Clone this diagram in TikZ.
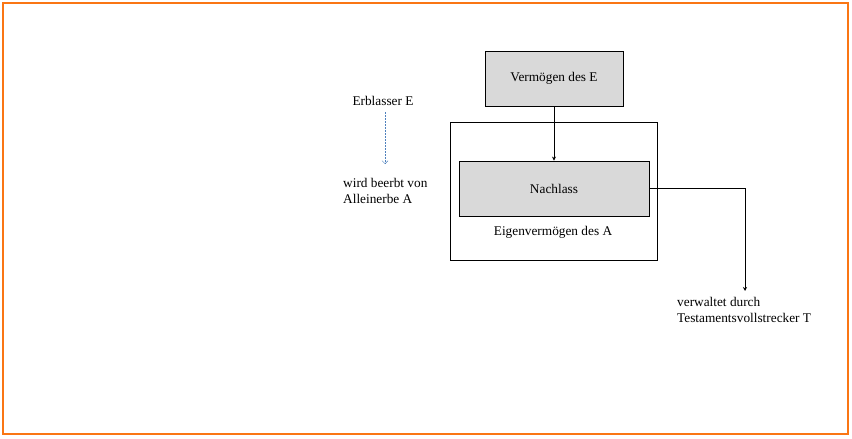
\documentclass[tikz,border=0pt]{standalone}
\usepackage{fontspec}
\setmainfont{Liberation Serif}
\usepackage{tikz}
\usetikzlibrary{positioning, arrows.meta}

\definecolor{frameorange}{RGB}{250,118,20}
\definecolor{boxgray}{RGB}{217,217,217}
\definecolor{dashblue}{RGB}{79,129,189}

\begin{document}
\begin{tikzpicture}[x=1pt, y=-1pt,
		grayBox/.style={draw, thick, fill=boxgray, minimum height=55pt},
		txt/.style={font=\fontsize{13.3}{16}\selectfont, inner sep=0pt, align=left}]

		% Frame
		\useasboundingbox (0,0) rectangle (852,439);
		\draw[frameorange, line width=1.2pt] (3,3) rectangle (848,434);

		% Boxes
		\draw[thick] (450,122) rectangle (657,260);
		\node[grayBox, minimum width=138pt] (verm) at (554,78.5) {\fontsize{13.3}{16}\selectfont Vermögen des E};
		\node[grayBox, minimum width=190pt] (nachlass) at (554,188.5) {\fontsize{13.3}{16}\selectfont Nachlass};
		\coordinate (tknee) at (745,188.5);
		\coordinate (tend) at (745,291);

		% Labels
		\node[txt] (erbl) at (383,101) {Erblasser E};
		\node[txt, anchor=west] (beerbt) at (343,191) {wird beerbt von\\Alleinerbe A};
		\node[txt] (eigen) at (553,232) {Eigenvermögen des A};
		\node[txt, anchor=north west] (tv) at (677,297) {verwaltet durch\\Testamentsvollstrecker T};

		% Arrows
		\draw[-{Stealth[length=4pt,width=4pt]}, thick] (verm) -- (nachlass);
		\draw[-{Stealth[length=4pt,width=4pt]}, thick] (nachlass.east) -- (tknee) -- (tend);
		\draw[-{Straight Barb[length=3pt,width=6pt]}, dashed, dashblue, thin, dash pattern=on 2pt off 1pt] (385,112) -- (385,164);

\end{tikzpicture}
\end{document}
